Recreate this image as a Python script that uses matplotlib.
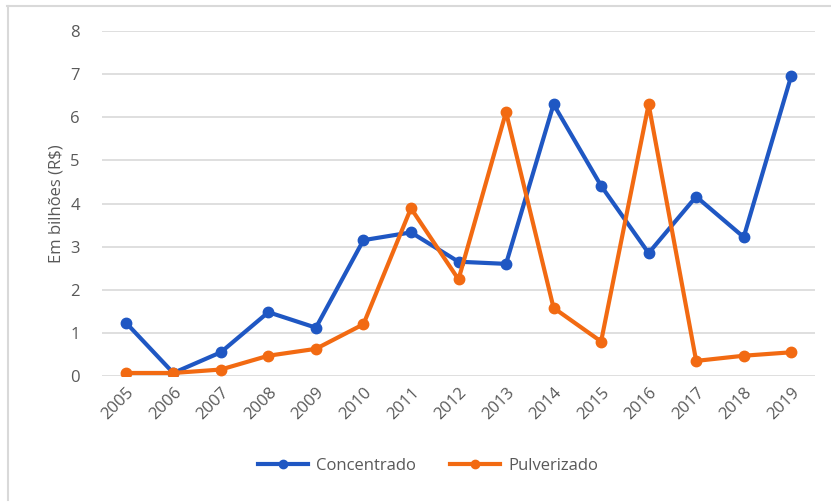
import matplotlib

matplotlib.use("Agg")
import matplotlib.pyplot as plt
from matplotlib.lines import Line2D

matplotlib.rcParams["font.family"] = ["Open Sans", "DejaVu Sans"]

YEARS = [str(y) for y in range(2005, 2020)]
CONCENTRADO = [1.24, 0.07, 0.55, 1.48, 1.12, 3.15, 3.33, 2.65, 2.60, 6.30, 4.41, 2.85, 4.16, 3.22, 6.96]
PULVERIZADO = [0.07, 0.07, 0.15, 0.47, 0.63, 1.20, 3.89, 2.24, 6.12, 1.58, 0.80, 6.30, 0.35, 0.47, 0.55]

BLUE = "#1F57C3"
ORANGE = "#F26A12"
TEXT = "#595959"
GRID = "#D9D9D9"

W, H = 831, 503
fig = plt.figure(figsize=(W / 100, H / 100), dpi=100)
ax = fig.add_axes([102 / W, 1 - 376 / H, 713 / W, 345 / H])

x = range(len(YEARS))
for vals, color, label in [
    (CONCENTRADO, BLUE, "Concentrado"),
    (PULVERIZADO, ORANGE, "Pulverizado"),
]:
    ax.plot(x, vals, color=color, linewidth=3.0, marker="o", markersize=7.5,
            label=label, zorder=3, solid_joinstyle="round")

ax.set_xlim(-0.5, len(YEARS) - 0.5)
ax.set_ylim(0, 8)
ax.set_yticks(range(0, 9))
ax.set_xticks(list(x))
ax.set_xticklabels(YEARS, rotation=45, ha="right", rotation_mode="anchor")
ax.tick_params(axis="both", length=0, colors=TEXT, labelsize=12)
ax.tick_params(axis="y", pad=16)
ax.tick_params(axis="x", pad=6)
ax.grid(axis="y", color=GRID, linewidth=1.2)
ax.set_axisbelow(True)
for spine in ax.spines.values():
    spine.set_visible(False)

ax.set_ylabel("Em bilhões (R$)", color=TEXT, fontsize=12, labelpad=4)

fig.legend(loc="center", bbox_to_anchor=(428 / W, 1 - 466 / H), ncol=2,
           frameon=False, fontsize=12, labelcolor=TEXT, handlelength=3.0,
           columnspacing=2.0, handletextpad=0.5, markerscale=0.8)

# outer chart frame, only top and left edges show
fig.add_artist(Line2D([7 / W, 1], [1 - 6 / H, 1 - 6 / H], color="#D9D9D9", linewidth=1.5))
fig.add_artist(Line2D([7.5 / W, 7.5 / W], [1 - 6 / H, 1 - 500 / H], color="#D9D9D9", linewidth=1.5))

fig.savefig("out.png", dpi=100)
